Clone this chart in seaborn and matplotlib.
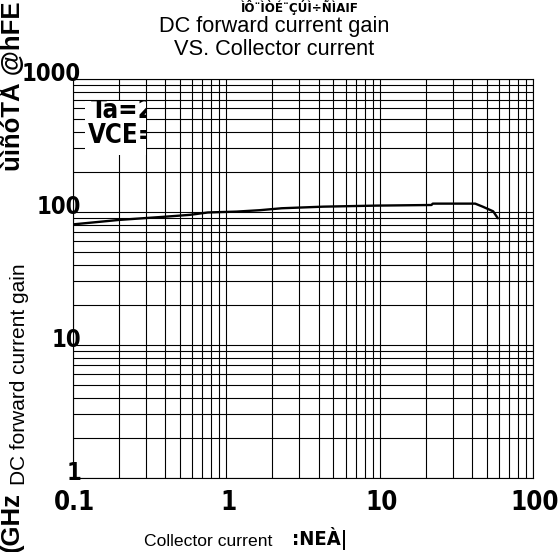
import numpy as np
import pandas as pd
import seaborn as sns
import matplotlib.pyplot as plt
from matplotlib.patches import Rectangle
from matplotlib.ticker import NullFormatter
from matplotlib.transforms import ScaledTranslation


collector_current = [0.1, 0.2, 0.4, 0.58, 0.76, 1.17, 1.66, 2.3, 4.3, 9.5,
                     21.8, 22.2, 42, 47, 55, 59]
hfe = [80.5, 87, 92, 95, 99, 100.5, 103, 106.5, 109.5, 111.5,
       112.7, 115.4, 115.4, 109.5, 101, 89.5]

x_ticks = [0.1, 1, 10, 100]
x_tick_labels = ['0.1', '1', '10', '100']
y_ticks = [1, 10, 100, 1000]
y_tick_labels = ['1', '10', '100', '1000']

TITLE = 'DC forward current gain\nVS. Collector current'
XLABEL = 'Collector current'
YLABEL = 'DC forward current gain'
COND_1 = 'Ta=25°C'
COND_2 = 'VCE=6V'

# garbled leftovers of the scanned datasheet
GARBLE_TOP = 'ÌÔ¨ÌÒÉ¨ÇÚÌ÷ÑÌAIF'
GARBLE_LEFT_LOW = '(GHz'
GARBLE_LEFT_HIGH = 'ùìñóTÅ @hFE'
GARBLE_BOTTOM = ':NEÀ|'


def narrow(text, size):
    text.set_fontfamily(['DejaVu Sans'])
    text.set_fontstretch('condensed')
    text.set_fontweight('bold')
    text.set_fontsize(size)
    text.set_color('black')


def main():
    sns.set_theme(style='white')
    plt.rcParams['font.family'] = ['Liberation Sans', 'DejaVu Sans']

    fig = plt.figure(figsize=(5.6, 5.52), dpi=100)
    ax = fig.add_axes([0.1298, 0.1346, 0.8220, 0.7223])

    df = pd.DataFrame({'Ic': collector_current, 'hFE': hfe})
    sns.lineplot(data=df, x='Ic', y='hFE', ax=ax, color='black',
                 linewidth=1.7, estimator=None, sort=False, zorder=5)

    ax.set_xscale('log')
    ax.set_yscale('log')
    ax.set_xlim(0.1, 100)
    ax.set_ylim(1, 1000)
    ax.grid(which='both', color='black', linewidth=0.8)
    ax.set_xticks(x_ticks, x_tick_labels)
    ax.set_yticks(y_ticks, y_tick_labels)
    ax.xaxis.set_minor_formatter(NullFormatter())
    ax.yaxis.set_minor_formatter(NullFormatter())
    ax.tick_params(which='both', length=0)
    ax.tick_params(axis='y', pad=-6)
    ax.tick_params(axis='x', pad=9)
    ax.set_xlabel('')
    ax.set_ylabel('')
    for s in ax.spines.values():
        s.set_color('black')
        s.set_linewidth(0.8)

    # tick labels: bold condensed digits, nudged like the scan
    up = ScaledTranslation(0, 0.07, fig.dpi_scale_trans)
    right = ScaledTranslation(0.02, 0, fig.dpi_scale_trans)
    for lab in ax.get_yticklabels():
        narrow(lab, 17)
        lab.set_transform(lab.get_transform() + up)
    for lab in ax.get_xticklabels():
        narrow(lab, 18.5)
        lab.set_transform(lab.get_transform() + right)

    # condition box, clipped like the original
    box = Rectangle((0.0267, 0.8094), 0.1325, 0.1354, transform=ax.transAxes,
                    facecolor='white', edgecolor='none', zorder=3)
    ax.add_patch(box)
    for txt, x, y in [(COND_1, 0.040, 0.902), (COND_2, 0.032, 0.8387)]:
        t = ax.text(x, y, txt, transform=ax.transAxes, va='baseline',
                    ha='left', zorder=4, clip_on=True)
        narrow(t, 18.5)
        t.set_clip_path(box)

    # garbled leftovers around the real labels
    t = fig.text(300 / 560, 1.0, GARBLE_TOP, ha='center', va='top')
    narrow(t, 9.5)
    fig.text(12 / 560, 0.0, GARBLE_LEFT_LOW, rotation=90, ha='center',
             va='bottom', fontsize=18.5, fontweight='bold', color='black')
    fig.text(12 / 560, 1 - 1 / 552, GARBLE_LEFT_HIGH, rotation=90,
             ha='center', va='top', fontsize=18.5, fontweight='bold',
             color='black')
    t = fig.text(292 / 560, 1 - 545 / 552, GARBLE_BOTTOM, ha='left',
                 va='baseline')
    narrow(t, 14.5)

    white = dict(facecolor='white', edgecolor='none', pad=1)
    fig.text(274 / 560, 1 - 16 / 552, TITLE, ha='center', va='top',
             fontsize=15.7, color='black', linespacing=1.15)
    fig.text(20 / 560, 1 - 374 / 552, YLABEL, rotation=90, ha='center',
             va='center', fontsize=15, color='black', bbox=white)
    fig.text(208 / 560, 1 - 546 / 552, XLABEL, ha='center', va='baseline',
             fontsize=12.6, color='black')

    fig.savefig('out.png', dpi=100)
    plt.close(fig)


if __name__ == '__main__':
    main()
